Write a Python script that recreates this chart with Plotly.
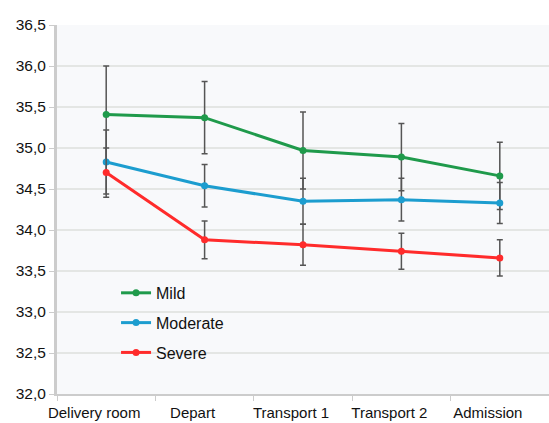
import plotly.graph_objects as go

categories = ["Delivery room", "Depart", "Transport 1", "Transport 2", "Admission"]

mild = [35.41, 35.37, 34.97, 34.89, 34.66]
mild_err = [0.59, 0.44, 0.47, 0.41, 0.41]

moderate = [34.83, 34.54, 34.35, 34.37, 34.33]
moderate_err = [0.39, 0.26, 0.28, 0.26, 0.25]

severe = [34.70, 33.88, 33.82, 33.74, 33.66]
severe_err = [0.30, 0.23, 0.25, 0.22, 0.22]

series = [
    ("Mild", mild, mild_err, "#1f9a4b"),
    ("Moderate", moderate, moderate_err, "#1c9dcf"),
    ("Severe", severe, severe_err, "#ff2b2b"),
]

fig = go.Figure()
for name, vals, err, color in series:
    fig.add_trace(go.Scatter(
        x=categories, y=vals, name=name, mode="lines+markers",
        line=dict(color=color, width=3),
        marker=dict(color=color, size=7, symbol="circle"),
        error_y=dict(type="data", array=err, visible=True,
                     color="#555555", thickness=1.5, width=3),
        legendgroup=name,
    ))

fig.update_layout(
    width=549, height=423,
    margin=dict(l=57, r=0, t=25, b=29),
    paper_bgcolor="white",
    plot_bgcolor="#f8f9fb",
    separators=",.",
    font=dict(family="Liberation Sans, Arial, sans-serif", size=15, color="#111111"),
    showlegend=True,
    legend=dict(x=0.12, y=0.32, xanchor="left", yanchor="top",
                bgcolor="rgba(0,0,0,0)", font=dict(size=16),
                tracegroupgap=6),
    xaxis=dict(
        type="category", range=[-0.5, 4.5], showgrid=False, showline=True,
        linecolor="#cccccc", linewidth=2, ticks="outside", tickcolor="#cccccc",
        ticklen=5, tickson="boundaries", tickfont=dict(size=15),
        tickangle=0, automargin=False, ticklabelshift=-12,
        ticklabelstandoff=4,
    ),
    yaxis=dict(
        range=[32, 36.5], dtick=0.5, tickformat=".1f",
        showgrid=True, gridcolor="#e4e6e4", gridwidth=2,
        showline=True, linecolor="#cccccc", linewidth=3,
        ticks="outside", tickcolor="#cccccc", ticklen=5,
        zeroline=False, tickfont=dict(size=15.5), automargin=False,
    ),
)

fig.write_html("out.html", config={"displayModeBar": False},
               post_script="document.body.style.margin='0';")
